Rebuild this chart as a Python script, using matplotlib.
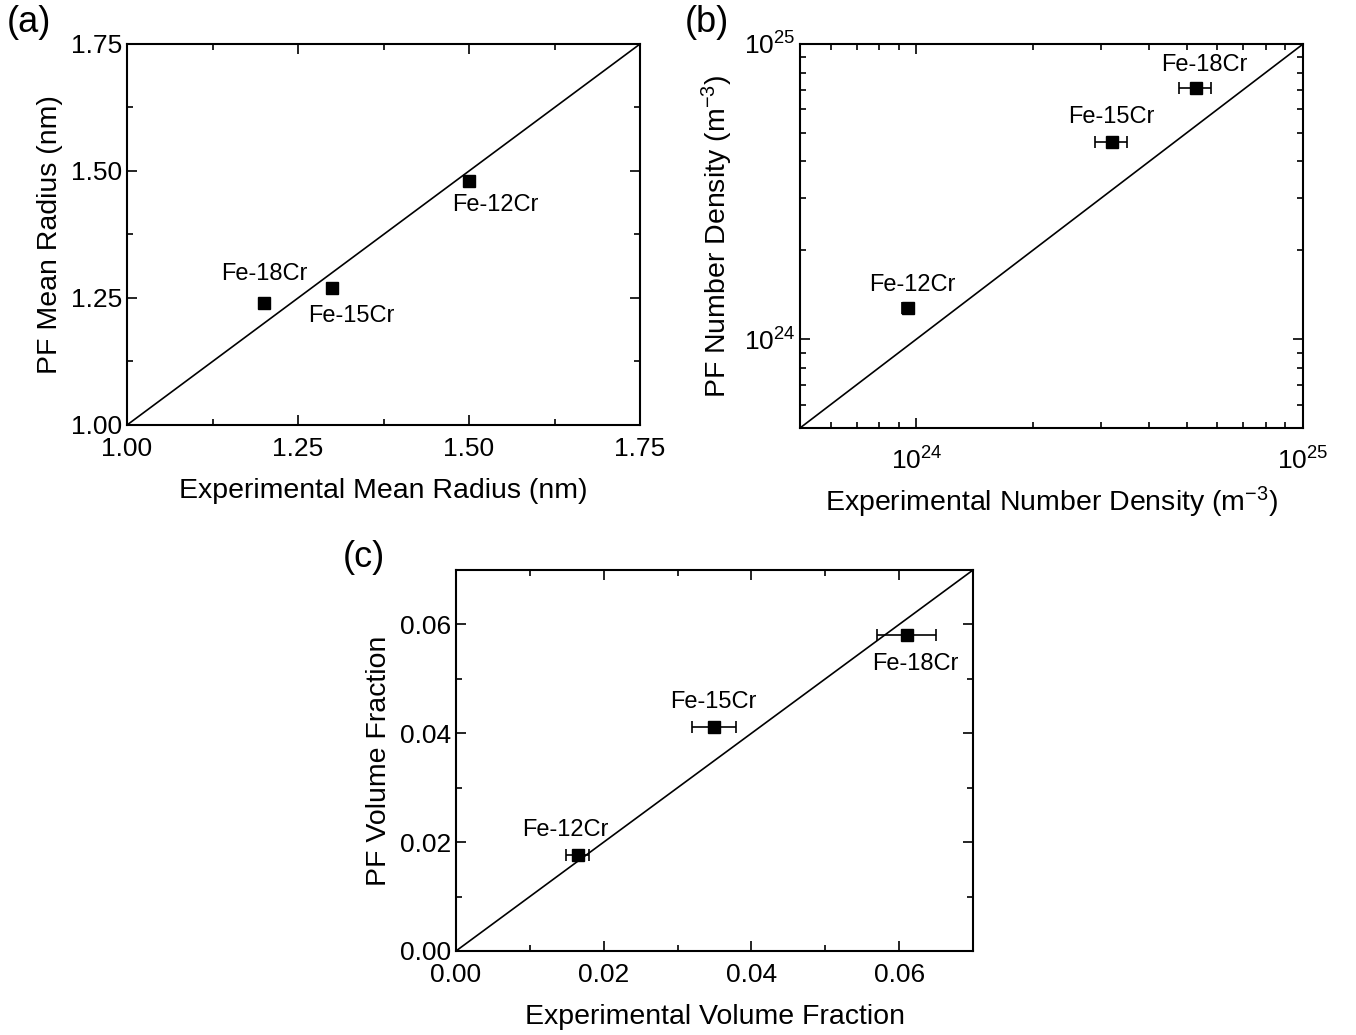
import matplotlib
matplotlib.use("Agg")
import matplotlib.pyplot as plt
from matplotlib.ticker import MultipleLocator, LogLocator, NullFormatter

plt.rcParams['font.family'] = ['Liberation Sans', 'DejaVu Sans']
plt.rcParams['mathtext.fontset'] = 'custom'
plt.rcParams['mathtext.rm'] = 'Liberation Sans'
plt.rcParams['mathtext.it'] = 'Liberation Sans:italic'
plt.rcParams['mathtext.default'] = 'regular'

# ---- data ----
alloys = ["Fe-12Cr", "Fe-15Cr", "Fe-18Cr"]

# (a) mean radius (nm)
exp_radius = [1.50, 1.30, 1.20]
pf_radius = [1.48, 1.27, 1.24]

# (b) number density (m^-3)
exp_density = [0.95e24, 3.2e24, 5.28e24]
exp_density_err = [0.03e24, 0.3e24, 0.5e24]
pf_density = [1.27e24, 4.67e24, 7.12e24]

# (c) volume fraction
exp_vf = [0.01645, 0.0349, 0.0610]
exp_vf_err = [0.0015, 0.0030, 0.0040]
pf_vf = [0.0176, 0.0412, 0.0580]

# label offsets in points (dx, dy) per panel
off_a = [(19, -17), (14, -20), (0, 21)]
off_b = [(3, 17), (0, 18), (6, 16)]
off_c = [(-9, 18), (0, 18), (6, -21)]

fig = plt.figure(figsize=(13.56, 10.35), dpi=100)
ax_a = fig.add_axes([0.0937, 0.5894, 0.3783, 0.3681])
ax_b = fig.add_axes([0.590, 0.5865, 0.371, 0.371])
ax_c = fig.add_axes([0.3363, 0.0812, 0.3813, 0.3681])

def style(ax):
    ax.tick_params(which='both', direction='in', top=True, right=True,
                   labelsize=19, width=1.2)
    ax.tick_params(which='major', length=7)
    ax.tick_params(which='minor', length=4)
    ax.tick_params(axis='x', which='major', pad=9)
    for s in ax.spines.values():
        s.set_linewidth(1.5)

def annotate(ax, xs, ys, offs):
    for name, x, y, (dx, dy) in zip(alloys, xs, ys, offs):
        ax.annotate(name, (x, y), xytext=(dx, dy), textcoords='offset points',
                    ha='center', va='center', fontsize=17)

# (a)
lo, hi = 1.0, 1.75
ax_a.plot([lo, hi], [lo, hi], color='black', lw=1.2)
ax_a.plot(exp_radius, pf_radius, 's', color='black', ms=8)
ax_a.set_xlim(lo, hi)
ax_a.set_ylim(lo, hi)
ax_a.xaxis.set_major_locator(MultipleLocator(0.25))
ax_a.yaxis.set_major_locator(MultipleLocator(0.25))
ax_a.xaxis.set_minor_locator(MultipleLocator(0.125))
ax_a.yaxis.set_minor_locator(MultipleLocator(0.125))
ax_a.xaxis.set_major_formatter(lambda v, p: "%.2f" % v)
ax_a.yaxis.set_major_formatter(lambda v, p: "%.2f" % v)
style(ax_a)
annotate(ax_a, exp_radius, pf_radius, off_a)
ax_a.set_xlabel("Experimental Mean Radius (nm)", fontsize=20.5, labelpad=12)
ax_a.set_ylabel("PF Mean Radius (nm)", fontsize=20.5, labelpad=6)
fig.text(0.005, 0.995, "(a)", fontsize=26, va='top')

# (b)
lo, hi = 5e23, 1e25
ax_b.plot([lo, hi], [lo, hi], color='black', lw=1.2)
ax_b.errorbar(exp_density, pf_density, xerr=exp_density_err, fmt='s',
              color='black', ms=8, capsize=4, elinewidth=1.2, capthick=1.2)
ax_b.set_xscale('log')
ax_b.set_yscale('log')
ax_b.set_xlim(lo, hi)
ax_b.set_ylim(lo, hi)
for axis in (ax_b.xaxis, ax_b.yaxis):
    axis.set_major_locator(LogLocator(base=10, numticks=5))
    axis.set_minor_locator(LogLocator(base=10, subs=range(2, 10), numticks=20))
    axis.set_minor_formatter(NullFormatter())
style(ax_b)
ax_b.tick_params(axis='x', which='major', pad=14)
annotate(ax_b, exp_density, pf_density, off_b)
ax_b.set_xlabel("Experimental Number Density (m$^{-3}$)", fontsize=20.5, labelpad=7)
ax_b.set_ylabel("PF Number Density (m$^{-3}$)", fontsize=20.5, labelpad=6)
fig.text(0.505, 0.995, "(b)", fontsize=26, va='top')

# (c)
lo, hi = 0.0, 0.07
ax_c.plot([lo, hi], [lo, hi], color='black', lw=1.2)
ax_c.errorbar(exp_vf, pf_vf, xerr=exp_vf_err, fmt='s', color='black',
              ms=8, capsize=4, elinewidth=1.2, capthick=1.2)
ax_c.set_xlim(lo, hi)
ax_c.set_ylim(lo, hi)
ax_c.xaxis.set_major_locator(MultipleLocator(0.02))
ax_c.yaxis.set_major_locator(MultipleLocator(0.02))
ax_c.xaxis.set_minor_locator(MultipleLocator(0.01))
ax_c.yaxis.set_minor_locator(MultipleLocator(0.01))
ax_c.xaxis.set_major_formatter(lambda v, p: "%.2f" % v)
ax_c.yaxis.set_major_formatter(lambda v, p: "%.2f" % v)
style(ax_c)
annotate(ax_c, exp_vf, pf_vf, off_c)
ax_c.set_xlabel("Experimental Volume Fraction", fontsize=20.5, labelpad=12)
ax_c.set_ylabel("PF Volume Fraction", fontsize=20.5, labelpad=6)
fig.text(0.253, 0.478, "(c)", fontsize=26, va='top')

fig.savefig("out.png", dpi=100)
